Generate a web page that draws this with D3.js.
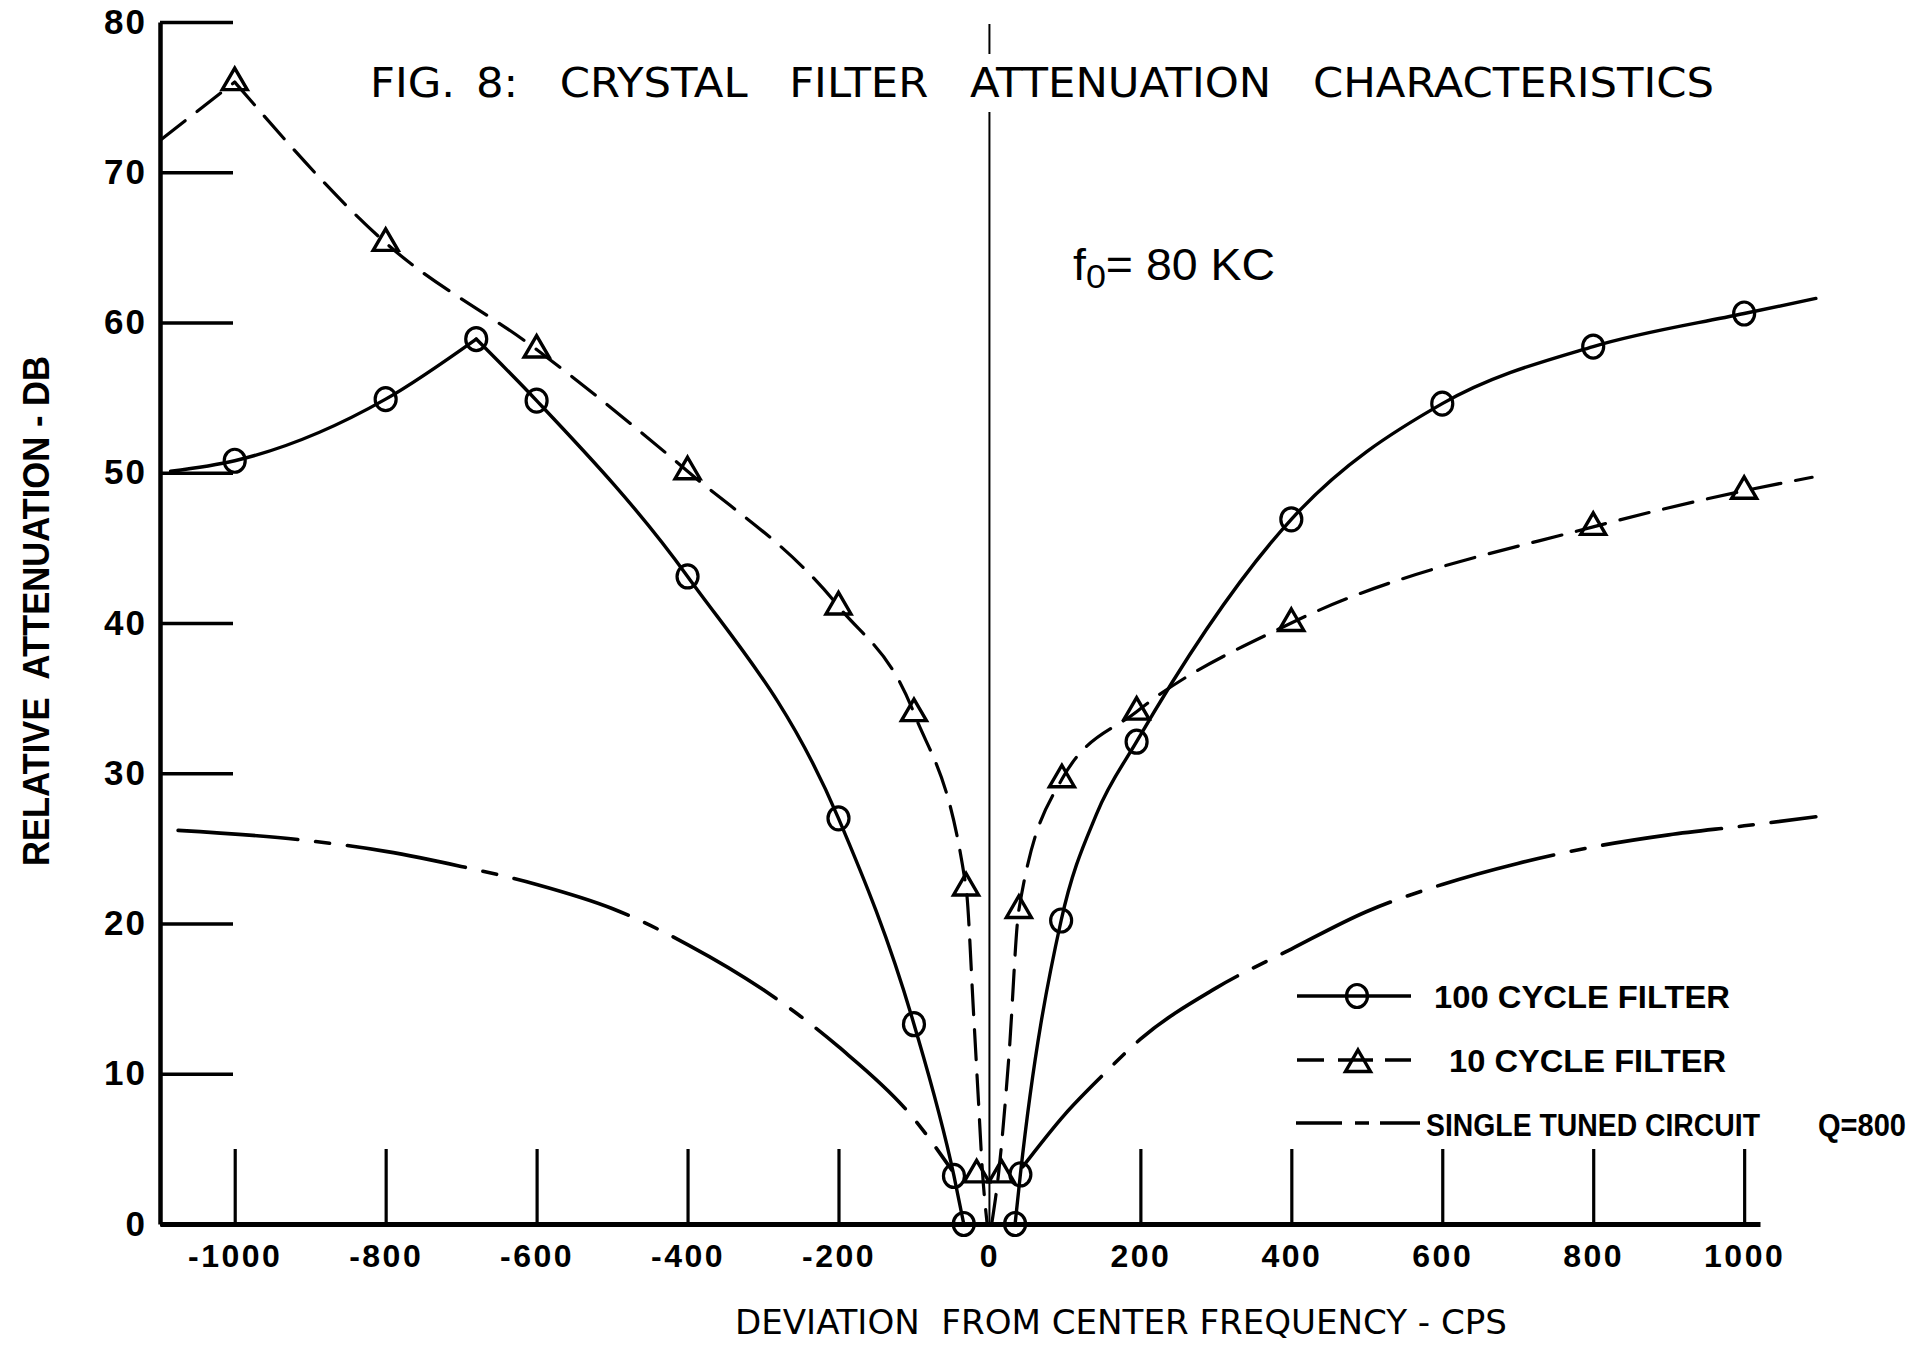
<!DOCTYPE html>
<html>
<head>
<meta charset="utf-8">
<script src="https://cdn.jsdelivr.net/npm/d3@7"></script>
<style>
  html, body { margin: 0; padding: 0; background: #fff; }
  svg { display: block; background: #fff; }
  text { fill: #000; white-space: pre; }
</style>
</head>
<body>
<div id="chart"></div>
<script>
// axis ticks
const xTicks = [-1000, -800, -600, -400, -200, 0, 200, 400, 600, 800, 1000];
const yTicks = [0, 10, 20, 30, 40, 50, 60, 70, 80];

// 100 cycle filter (solid, circles) - split at the peak so the cusp stays sharp
const hundredRise = [[-1085, 50.1], [-1000, 50.8], [-800, 54.9], [-680, 58.9]];
const hundredFall = [[-680, 58.9], [-600, 54.8], [-400, 43.1], [-200, 27.0], [-100, 13.3], [-47, 3.2], [-34, 0]];
const hundredRight = [[34, 0], [41, 3.3], [95, 20.2], [142, 27.3], [195, 32.1], [400, 46.9], [600, 54.6], [800, 58.4], [1000, 60.6], [1095, 61.6]];
const hundredMarks = [[-1000, 50.8], [-800, 54.9], [-680, 58.9], [-600, 54.8], [-400, 43.1], [-200, 27.0], [-100, 13.3],
  [-47, 3.2], [-34, 0], [34, 0], [41, 3.3], [95, 20.2], [195, 32.1], [400, 46.9], [600, 54.6], [800, 58.4], [1000, 60.6]];

// 10 cycle filter (dashed, triangles)
const tenRise = [[-1097, 72.2], [-1000, 76.0]];
const tenFall = [[-1000, 76.0], [-800, 65.3], [-600, 58.2], [-400, 50.1], [-200, 41.1], [-100, 34.0], [-31, 22.4],
  [-21, 14.0], [-15, 8.6], [-9, 3.3], [-3, 0]];
const tenRight = [[3, 0], [12, 3.3], [26, 11.3], [39, 20.9], [96, 29.6], [195, 34.1], [400, 40.0], [800, 46.4], [1000, 48.8], [1090, 49.7]];
const tenMarks = [[-1000, 76.0], [-800, 65.3], [-600, 58.2], [-400, 50.1], [-200, 41.1], [-100, 34.0], [-31, 22.4],
  [-17, 3.3], [16, 3.3], [39, 20.9], [96, 29.6], [195, 34.1], [400, 40.0], [800, 46.4], [1000, 48.8]];

// single tuned circuit Q=800 (dash-dot)
const tunedLeft = [[-1075, 26.2], [-900, 25.5], [-800, 24.8], [-700, 23.8], [-600, 22.6], [-500, 21.0], [-400, 18.6],
  [-300, 15.6], [-200, 11.8], [-100, 7.0], [-50, 3.6]];
const tunedRight = [[44, 3.8], [100, 7.3], [150, 9.9], [200, 12.3], [300, 15.7], [400, 18.3], [500, 20.8], [600, 22.6],
  [700, 24.0], [800, 25.1], [900, 25.9], [1000, 26.5], [1095, 27.1]];

const legendLabels = ['100 CYCLE FILTER', '10 CYCLE FILTER', 'SINGLE TUNED CIRCUIT', 'Q=800'];

const INK = '#000';
const narrow = "'Liberation Sans Narrow', 'DejaVu Sans Condensed', 'Liberation Sans', sans-serif";
const bold = "'Liberation Sans', Arial, sans-serif";

const svg = d3.select('#chart').append('svg')
  .attr('width', 1923)
  .attr('height', 1348);

const x = d3.scaleLinear().domain([-1099, 1021]).range([160, 1760]);
const y = d3.scaleLinear().domain([0, 80]).range([1224, 22]);

// x axis, ticks pointing up into the plot
const xAxis = svg.append('g')
  .attr('transform', 'translate(0,' + y(0) + ')')
  .call(d3.axisBottom(x).tickValues(xTicks).tickSize(-75).tickSizeOuter(0).tickPadding(20).tickFormat(d => String(d)));
xAxis.select('.domain').attr('stroke', INK).attr('stroke-width', 5);
xAxis.selectAll('.tick line').attr('stroke', INK).attr('stroke-width', 3.2);
xAxis.selectAll('.tick line').filter(d => d === 0).remove();
xAxis.selectAll('.tick text')
  .attr('font-family', bold).attr('font-weight', 'bold').attr('font-size', 32)
  .attr('letter-spacing', 2.5).attr('fill', INK);

// y axis, ticks pointing right
const yAxis = svg.append('g')
  .attr('transform', 'translate(' + x.range()[0] + ',0)')
  .call(d3.axisLeft(y).tickValues(yTicks).tickSize(-73).tickSizeOuter(0).tickPadding(13));
yAxis.select('.domain').attr('stroke', INK).attr('stroke-width', 4.5);
yAxis.selectAll('.tick line').attr('stroke', INK).attr('stroke-width', 3.5);
yAxis.selectAll('.tick text')
  .attr('font-family', bold).attr('font-weight', 'bold').attr('font-size', 35)
  .attr('letter-spacing', 2).attr('fill', INK);

// center frequency line, broken around the title
svg.append('line')
  .attr('x1', x(0)).attr('x2', x(0)).attr('y1', 24).attr('y2', 54)
  .attr('stroke', INK).attr('stroke-width', 2);
svg.append('line')
  .attr('x1', x(0)).attr('x2', x(0)).attr('y1', 112).attr('y2', y(0))
  .attr('stroke', INK).attr('stroke-width', 2);

const line = d3.line()
  .x(d => x(d[0]))
  .y(d => y(d[1]))
  .curve(d3.curveMonotoneX);

function drawCurve(points, dash, width) {
  svg.append('path')
    .datum(points)
    .attr('d', line)
    .attr('fill', 'none')
    .attr('stroke', INK)
    .attr('stroke-width', width)
    .attr('stroke-linecap', 'round')
    .attr('stroke-dasharray', dash);
}

[hundredRise, hundredFall, hundredRight].forEach(p => drawCurve(p, null, 3.4));
[tenRise, tenFall, tenRight].forEach(p => drawCurve(p, '30,15', 3.2));
[tunedLeft, tunedRight].forEach(p => drawCurve(p, '120,18,14,18', 3.6));

const trianglePath = 'M0,-14L12.5,7.5L-12.5,7.5Z';

function drawCircle(cx, cy) {
  svg.append('ellipse')
    .attr('cx', cx).attr('cy', cy)
    .attr('rx', 10.5).attr('ry', 11.5)
    .attr('fill', 'none').attr('stroke', INK).attr('stroke-width', 3.2);
}

function drawTriangle(cx, cy) {
  svg.append('path')
    .attr('d', trianglePath)
    .attr('transform', 'translate(' + cx + ',' + cy + ')')
    .attr('fill', 'none').attr('stroke', INK).attr('stroke-width', 3.4)
    .attr('stroke-linejoin', 'miter');
}

hundredMarks.forEach(d => drawCircle(x(d[0]), y(d[1])));
tenMarks.forEach(d => drawTriangle(x(d[0]), y(d[1])));

// title
svg.append('text')
  .attr('x', 370).attr('y', 97)
  .attr('font-family', narrow).attr('font-size', 41)
  .attr('word-spacing', 6)
  .attr('textLength', 1344).attr('lengthAdjust', 'spacingAndGlyphs')
  .text('FIG. 8:  CRYSTAL  FILTER  ATTENUATION  CHARACTERISTICS');

// f0 note
const note = svg.append('text')
  .attr('x', 1073).attr('y', 280)
  .attr('font-family', bold).attr('font-size', 44)
  .attr('textLength', 202).attr('lengthAdjust', 'spacingAndGlyphs');
note.append('tspan').text('f');
note.append('tspan').attr('dy', 8).attr('font-size', 34).text('0');
note.append('tspan').attr('dy', -8).text('= 80 KC');

// axis titles
svg.append('text')
  .attr('transform', 'translate(49,611) rotate(-90)')
  .attr('text-anchor', 'middle')
  .attr('font-family', bold).attr('font-weight', 'bold').attr('font-size', 36)
  .attr('textLength', 510).attr('lengthAdjust', 'spacingAndGlyphs')
  .text('RELATIVE  ATTENUATION - DB');

svg.append('text')
  .attr('x', 735).attr('y', 1334)
  .attr('font-family', narrow).attr('font-size', 33)
  .attr('textLength', 772).attr('lengthAdjust', 'spacingAndGlyphs')
  .text('DEVIATION  FROM CENTER FREQUENCY - CPS');

// legend
const legend = svg.append('g');
legend.append('line')
  .attr('x1', 1297).attr('x2', 1411).attr('y1', 996).attr('y2', 996)
  .attr('stroke', INK).attr('stroke-width', 3.4);
drawCircle(1357, 996);
legend.append('line')
  .attr('x1', 1297).attr('x2', 1411).attr('y1', 1060).attr('y2', 1060)
  .attr('stroke', INK).attr('stroke-width', 3.4)
  .attr('stroke-dasharray', '27,14,35,12,30');
drawTriangle(1358, 1064);
legend.append('line')
  .attr('x1', 1296).attr('x2', 1420).attr('y1', 1123).attr('y2', 1123)
  .attr('stroke', INK).attr('stroke-width', 3.6)
  .attr('stroke-dasharray', '46,13,14,11,40');

const legendText = [
  { x: 1434, y: 1008, w: 296 },
  { x: 1449, y: 1072, w: 277 },
  { x: 1426, y: 1136, w: 334 },
  { x: 1818, y: 1136, w: 88 }
];
legendText.forEach((t, i) => {
  legend.append('text')
    .attr('x', t.x).attr('y', t.y)
    .attr('font-family', bold).attr('font-weight', 'bold').attr('font-size', 32)
    .attr('textLength', t.w).attr('lengthAdjust', 'spacingAndGlyphs')
    .text(legendLabels[i]);
});
</script>
</body>
</html>
